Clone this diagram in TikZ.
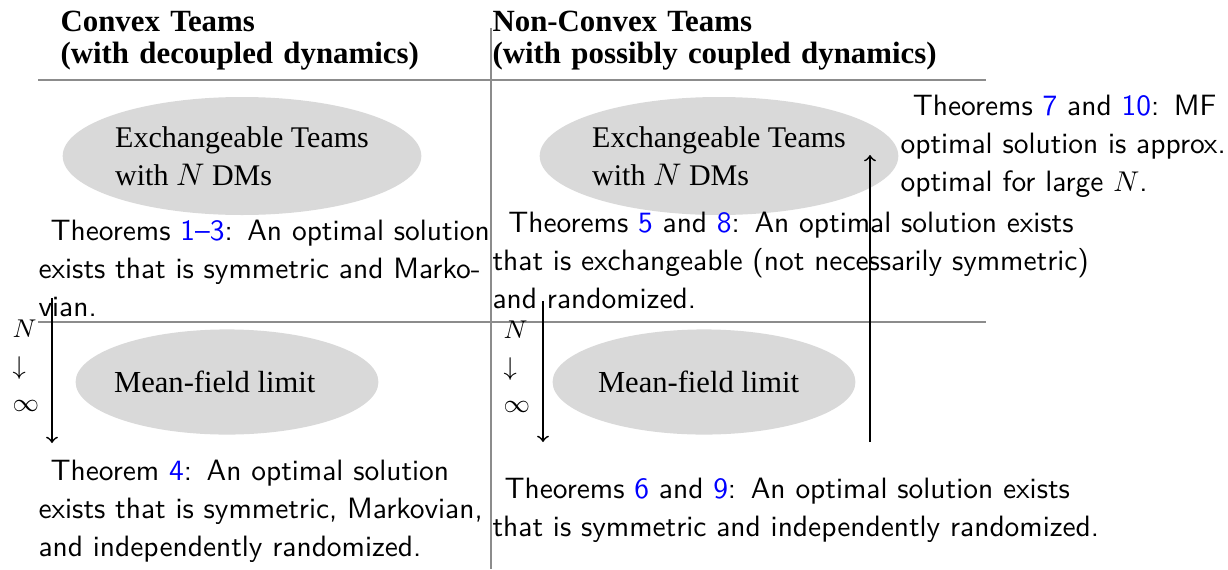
\documentclass[tikz,border=0pt]{standalone}
\usepackage{fontspec}
\newfontfamily\headfont{Liberation Serif}
\usetikzlibrary{shapes.geometric}

\newcommand{\thmref}[1]{\textcolor{blue}{#1}}

\tikzset{
  teambox/.style={ellipse, fill=black!15, inner sep=0pt,
    minimum width=121.8pt, minimum height=41.3pt, align=left,
    font=\headfont\fontsize{10.5}{13.3}\selectfont},
  limitbox/.style={ellipse, fill=black!15, inner sep=0pt,
    minimum width=106pt, minimum height=36.8pt,
    font=\headfont\fontsize{10.7}{13.3}\selectfont},
  colhead/.style={anchor=base west, inner sep=0pt, text width=190pt, align=left,
    font=\headfont\bfseries\fontsize{10.8}{11.2}\selectfont},
  thmtext/.style={anchor=base west, inner sep=0pt, text width=240pt, align=left,
    font=\sffamily\fontsize{10.3}{13.4}\selectfont},
  limlabel/.style={anchor=base west, inner sep=0pt, text width=15pt, align=left,
    font=\fontsize{9}{13.1}\selectfont},
  rule/.style={draw=black!45, line width=0.5pt},
  limarrow/.style={->, semithick}
}

\begin{document}
\begin{tikzpicture}[x=0.35pt,y=-0.35pt]
\useasboundingbox (0,0) rectangle (1228,569);

% column heads and rules
\node[colhead] (headconvex) at (60,31) {Convex Teams\\(with decoupled dynamics)};
\node[colhead] (headnonconvex) at (492,31) {Non-Convex Teams\\(with possibly coupled dynamics)};
\draw[rule] (38,80) -- (986,80);
\draw[rule] (38,322) -- (986,322);
\draw[rule] (491,28) -- (491,569);

% N DM teams
\node[teambox] (teamconvex) at (242,156) {Exchangeable Teams\\with $N$ DMs};
\node[teambox] (teamnonconvex) at (719,156) {Exchangeable Teams\\with $N$ DMs};

% mean-field limits (text sits left of centre)
\node[limitbox] (mfconvex) at (227,382) {\makebox[70pt][l]{\hspace*{-4.5pt}Mean-field limit}};
\node[limitbox] (mfnonconvex) at (704,382) {\makebox[70pt][l]{\hspace*{-2.1pt}Mean-field limit}};

% results
\node[thmtext] (thmconvex) at (38,240) {\hspace*{4.2pt}Theorems \thmref{1--3}: An optimal solution\\
  exists that is symmetric and Marko-\\vian.};
\node[thmtext] (thmnonconvex) at (492,232) {\hspace*{5.5pt}Theorems \thmref{5} and \thmref{8}: An optimal solution exists\\
  that is exchangeable (not necessarily symmetric)\\and randomized.};
\node[thmtext] (thmmfconvex) at (38,480) {\hspace*{4.2pt}Theorem \thmref{4}: An optimal solution\\
  exists that is symmetric, Markovian,\\and independently randomized.};
\node[thmtext] (thmmfnonconvex) at (492,498) {\hspace*{4.2pt}Theorems \thmref{6} and \thmref{9}: An optimal solution exists\\
  that is symmetric and independently randomized.};
\node[thmtext] (thmapprox) at (900,115) {\hspace*{4.3pt}Theorems \thmref{7} and \thmref{10}: MF\\
  optimal solution is approx.\\optimal for large $N$.};

% limits N -> infinity
\node[limlabel] (limconvex) at (12,337) {$N$\\$\downarrow$\\$\infty$};
\node[limlabel] (limnonconvex) at (503,338) {$N$\\$\downarrow$\\$\infty$};

\coordinate (limconvextop) at (52,298);
\coordinate (limconvexend) at (52,443);
\coordinate (limnonconvextop) at (543,301);
\coordinate (limnonconvexend) at (543,442);
\coordinate (approxstart) at (870,442);
\coordinate (approxend) at (870,155);

\draw[limarrow] (limconvextop) -- (limconvexend);
\draw[limarrow] (limnonconvextop) -- (limnonconvexend);
\draw[limarrow] (approxstart) -- (approxend);
\end{tikzpicture}
\end{document}
